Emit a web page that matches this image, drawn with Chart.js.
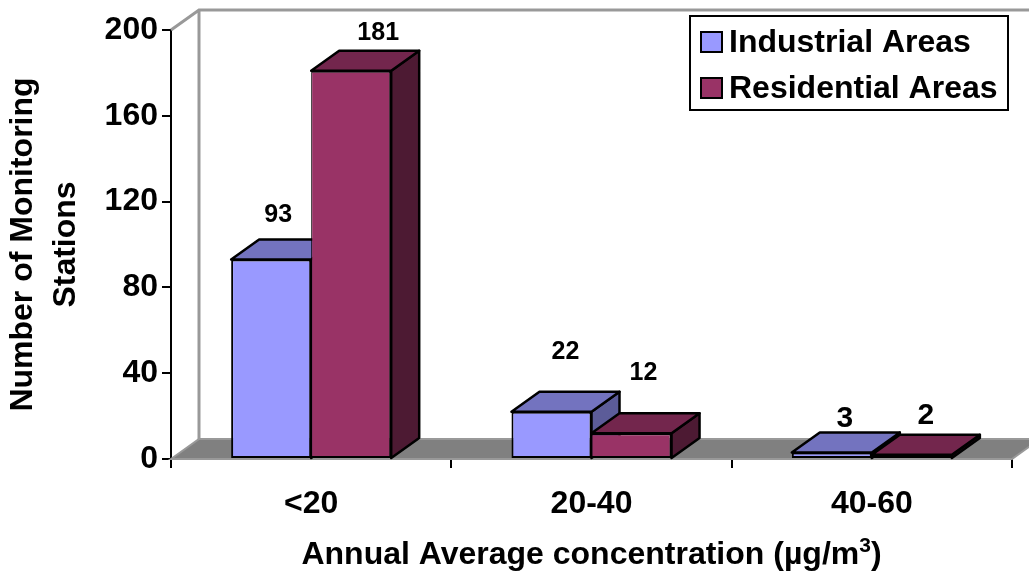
<!DOCTYPE html>
<html>
<head>
<meta charset="utf-8">
<script src="https://cdn.jsdelivr.net/npm/chart.js@4"></script>
<style>
  html, body { margin: 0; padding: 0; background: #fff; }
  #wrap { width: 1029px; height: 571px; }
</style>
</head>
<body>
<div id="wrap"><canvas id="chart" width="1029" height="571"></canvas></div>
<script>
const categories = ['<20', '20-40', '40-60'];
const industrialValues = [93, 22, 3];
const residentialValues = [181, 12, 2];
const yTicks = [0, 40, 80, 120, 160, 200];

// 3D look: how far the back of the box sits from the front
const depthX = 28;
const depthY = 20;

// hand placed value labels, offset from the top centre of each bar
const labelStyle = {
  0: [{ dx: 7, dy: 44, size: 25 }, { dx: 14, dy: 60, size: 25 }, { dx: 13, dy: 34, size: 30 }],
  1: [{ dx: 27, dy: 38, size: 25 }, { dx: 12, dy: 60, size: 25 }, { dx: 14, dy: 39, size: 30 }]
};

const FONT = '"Liberation Sans", Arial, sans-serif';

function quad(ctx, pts, fill, stroke, lw) {
  ctx.beginPath();
  ctx.moveTo(pts[0][0], pts[0][1]);
  for (let i = 1; i < pts.length; i++) ctx.lineTo(pts[i][0], pts[i][1]);
  ctx.closePath();
  if (fill) { ctx.fillStyle = fill; ctx.fill(); }
  if (stroke) { ctx.strokeStyle = stroke; ctx.lineWidth = lw; ctx.stroke(); }
}

// Back wall and floor, behind everything
const wallPlugin = {
  id: 'wall',
  beforeDatasetsDraw(chart) {
    const { ctx, chartArea: a } = chart;
    ctx.save();
    quad(ctx, [[a.left, a.bottom], [a.left + depthX, a.bottom - depthY], [a.right + depthX, a.bottom - depthY], [a.right, a.bottom]], '#808080', '#999999', 2);
    ctx.strokeStyle = '#999999';
    ctx.lineWidth = 3;
    ctx.beginPath();
    ctx.moveTo(a.left, a.top);
    ctx.lineTo(a.left + depthX, a.top - depthY);
    ctx.lineTo(a.right + depthX, a.top - depthY);
    ctx.moveTo(a.left + depthX, a.top - depthY);
    ctx.lineTo(a.left + depthX, a.bottom - depthY);
    ctx.stroke();
    ctx.restore();

    // tops and sides of the bars, the fronts are drawn by Chart.js on top
    ctx.save();
    ctx.lineJoin = 'round';
    chart.data.datasets.forEach((ds, d) => {
      chart.getDatasetMeta(d).data.forEach(bar => {
        const l = bar.x - bar.width / 2, r = bar.x + bar.width / 2, t = bar.y, b = bar.base;
        quad(ctx, [[r, t], [r + depthX, t - depthY], [r + depthX, b - depthY], [r, b]], ds.sideColor, '#000', 2.5);
        quad(ctx, [[l, t], [l + depthX, t - depthY], [r + depthX, t - depthY], [r, t]], ds.topColor, '#000', 2.5);
      });
    });
    ctx.restore();
  }
};

// Value labels, legend box and the x title (it needs a raised 3)
const overlayPlugin = {
  id: 'overlay',
  afterDraw(chart) {
    const { ctx, chartArea: a } = chart;
    ctx.save();
    ctx.fillStyle = '#000';
    ctx.textAlign = 'center';
    ctx.textBaseline = 'middle';
    chart.data.datasets.forEach((ds, d) => {
      chart.getDatasetMeta(d).data.forEach((bar, i) => {
        const s = labelStyle[d][i];
        ctx.font = 'bold ' + s.size + 'px ' + FONT;
        ctx.fillText(String(ds.data[i]), bar.x + s.dx, bar.y - s.dy);
      });
    });

    // legend
    ctx.fillStyle = '#fff';
    ctx.strokeStyle = '#000';
    ctx.lineWidth = 2;
    ctx.fillRect(690, 16, 318, 94);
    ctx.strokeRect(690, 16, 318, 94);
    ctx.textAlign = 'left';
    ctx.font = 'bold 32px ' + FONT;
    chart.data.datasets.forEach((ds, d) => {
      const y = 42 + d * 46;
      ctx.fillStyle = ds.backgroundColor;
      ctx.fillRect(701, y - 10, 21, 20);
      ctx.strokeRect(701, y - 10, 21, 20);
      ctx.fillStyle = '#000';
      ctx.fillText(ds.label, 729, y + 1);
    });

    // x title
    const titleA = 'Annual Average concentration (µg/m';
    const titleB = '3';
    const titleC = ')';
    ctx.textBaseline = 'alphabetic';
    ctx.font = 'bold 32px ' + FONT;
    const wA = ctx.measureText(titleA).width, wC = ctx.measureText(titleC).width;
    ctx.font = 'bold 21px ' + FONT;
    const wB = ctx.measureText(titleB).width;
    const x = (a.left + a.right) / 2 - (wA + wB + wC) / 2;
    ctx.fillStyle = '#000';
    ctx.font = 'bold 32px ' + FONT;
    ctx.fillText(titleA, x, 564);
    ctx.fillText(titleC, x + wA + wB, 564);
    ctx.font = 'bold 21px ' + FONT;
    ctx.fillText(titleB, x + wA, 552);
    ctx.restore();
  }
};

new Chart(document.getElementById('chart'), {
  type: 'bar',
  data: {
    labels: categories,
    datasets: [
      { label: 'Industrial Areas', data: industrialValues, backgroundColor: '#9999FF', topColor: '#7373BF', sideColor: '#5C5C99', borderColor: '#000', borderWidth: { top: 2, left: 2, bottom: 2, right: 2 }, borderSkipped: false, barPercentage: 1, categoryPercentage: 0.571 },
      { label: 'Residential Areas', data: residentialValues, backgroundColor: '#993366', topColor: '#73264D', sideColor: '#4D1A33', borderColor: '#000', borderWidth: { top: 2, left: 1, bottom: 2, right: 2 }, borderSkipped: false, barPercentage: 1, categoryPercentage: 0.571 }
    ]
  },
  options: {
    responsive: false,
    animation: false,
    layout: { padding: { top: 30, right: 17, left: 0, bottom: 0 } },
    plugins: { legend: { display: false }, tooltip: { enabled: false } },
    scales: {
      x: {
        afterFit(scale) { scale.height = 112; },
        border: { color: '#000', width: 2 },
        grid: { drawOnChartArea: false, color: '#000', lineWidth: 2, tickLength: 9 },
        ticks: { color: '#000', font: { family: FONT, size: 32, weight: 'bold' }, padding: 17, maxRotation: 0 }
      },
      y: {
        min: 0,
        max: 200,
        afterFit(scale) { scale.width = 171; },
        afterBuildTicks(scale) { scale.ticks = yTicks.map(v => ({ value: v })); },
        border: { color: '#000', width: 2 },
        grid: { drawOnChartArea: false, color: '#000', lineWidth: 2, tickLength: 9 },
        ticks: { color: '#000', font: { family: FONT, size: 32, weight: 'bold' }, padding: 4 },
        title: { display: true, text: ['Number of Monitoring', 'Stations'], color: '#000', font: { family: FONT, size: 32, weight: 'bold', lineHeight: 1.34 }, padding: { top: 2, bottom: 0 } }
      }
    }
  },
  plugins: [wallPlugin, overlayPlugin]
});
</script>
</body>
</html>
